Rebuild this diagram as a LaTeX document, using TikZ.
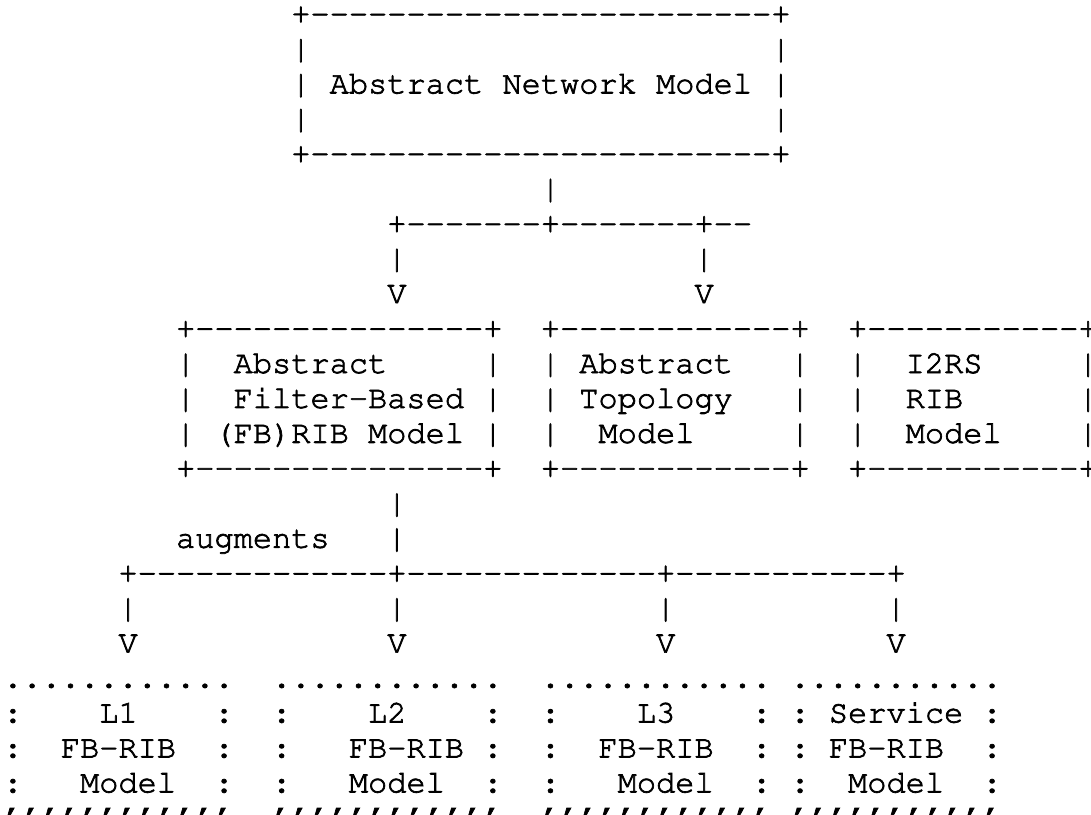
\documentclass[tikz,border=0pt]{standalone}
\usepackage[T1,TU]{fontenc}
\usepackage{tikz}
\usetikzlibrary{positioning}
\tikzset{auto, x=9.6pt, y=-17.475pt, font=\fontencoding{T1}\fontfamily{pcr}\fontsize{16}{16}\selectfont}
\tikzstyle{ascii} = [inner sep=0pt, outer sep=0pt, anchor=base west]
% n copies of one character
\newcommand{\rep}[2]{\foreach \k in {1,...,#1}{#2}}

\begin{document}
\begin{tikzpicture}
    \useasboundingbox (-1.65pt,11.75pt) rectangle (543.85pt,-395.25pt);
    \special{pdf:literal 2 Tr 0.35 w}
    % top box
    \node [ascii] (anm_top) at (15,0) {+\rep{24}{-}+};
    \node [ascii] (anm_pad1) at (15,1) {|\rep{24}{~}|};
    \node [ascii] (anm) at (15,2) {|~Abstract~Network~Model~|};
    \node [ascii] (anm_pad2) at (15,3) {|\rep{24}{~}|};
    \node [ascii] (anm_bot) at (15,4) {+\rep{24}{-}+};
    \node [ascii] (anm_down) at (28,5) {|};
    \node [ascii] (split1) at (20,6) {+\rep{7}{-}+\rep{7}{-}+\rep{2}{-}};
    \node [ascii] (split1_line) at (20,7) {|\rep{15}{~}|};
    \node [ascii] (split1_arr) at (20,8) {V\rep{15}{~}V};
    % middle boxes
    \node [ascii] (mid_top) at (9,9) {+\rep{15}{-}+~~+\rep{12}{-}+~~+\rep{11}{-}+};
    \node [ascii] (mid_1) at (9,10) {|~~Abstract\rep{5}{~}|~~|~Abstract\rep{3}{~}|~~|~~I2RS\rep{5}{~}|};
    \node [ascii] (mid_2) at (9,11) {|~~Filter-Based~|~~|~Topology\rep{3}{~}|~~|~~RIB\rep{6}{~}|};
    \node [ascii] (mid_3) at (9,12) {|~(FB)RIB~Model~|~~|~~Model\rep{5}{~}|~~|~~Model\rep{4}{~}|};
    \node [ascii] (mid_bot) at (9,13) {+\rep{15}{-}+~~+\rep{12}{-}+~~+\rep{11}{-}+};
    \node [ascii] (fb_down) at (20,14) {|};
    \node [ascii] (augments) at (9,15) {augments~~~|};
    \node [ascii] (split2) at (6,16) {+\rep{13}{-}+\rep{13}{-}+\rep{11}{-}+};
    \node [ascii] (split2_line) at (6,17) {|\rep{13}{~}|\rep{13}{~}|\rep{11}{~}|};
    \node [ascii] (split2_arr) at (6,18) {V\rep{13}{~}V\rep{13}{~}V\rep{11}{~}V};
    % bottom boxes
    \node [ascii] (low_top) at (0,19) {\rep{12}{.}~~\rep{12}{.}~~\rep{12}{.}~\rep{11}{.}};
    \node [ascii] (low_1) at (0,20) {:\rep{4}{~}L1\rep{4}{~}:~~:\rep{4}{~}L2\rep{4}{~}:~~:\rep{4}{~}L3\rep{4}{~}:~:~Service~:};
    \node [ascii] (low_2) at (0,21) {:~~FB-RIB~~:~~:\rep{3}{~}FB-RIB~:~~:~~FB-RIB~~:~:~FB-RIB~~:};
    \node [ascii] (low_3) at (0,22) {:\rep{3}{~}Model~~:~~:\rep{3}{~}Model~~:~~:\rep{3}{~}Model~~:~:~~Model~~:};
    \node [ascii] (low_bot) at (0,23) {\rep{12}{'}~~\rep{12}{'}~~\rep{12}{'}~\rep{11}{'}};
\end{tikzpicture}
\end{document}
